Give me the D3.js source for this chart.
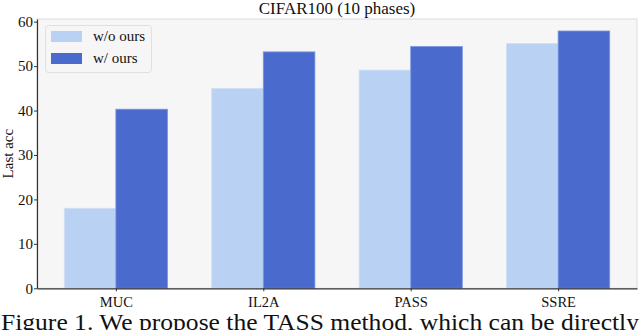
<!DOCTYPE html>
<html><head><meta charset="utf-8">
<script src="https://cdn.jsdelivr.net/npm/d3@7"></script>
<style>body{margin:0;background:#fff}svg{display:block}</style>
</head><body><svg id="c" width="640" height="330" font-family="Liberation Serif"></svg>
<script>
const categories = ["MUC", "IL2A", "PASS", "SSRE"];
const seriesNames = ["w/o ours", "w/ ours"];
const withoutOurs = [18.0, 45.0, 49.1, 55.1];
const withOurs = [40.3, 53.2, 54.4, 57.9];
const yTicks = [0, 10, 20, 30, 40, 50, 60];
const colors = ["#b9d2f3", "#4a6bcd"];
const title = "CIFAR100 (10 phases)";
const yLabel = "Last acc";
const caption = "Figure 1.  We propose the TASS method, which can be directly";

const FF = "Liberation Serif";
const svg = d3.select("#c");
const L = 37, R = 637, T = 19, B = 288.3;
const x = d3.scaleLinear().domain([-0.535, categories.length - 1 + 0.535]).range([L, R]);
const y = d3.scaleLinear().domain([0, 60.6]).range([B, T]);
const bw = 0.35;

svg.append("rect").attr("x", L).attr("y", T).attr("width", R - L).attr("height", B - T).attr("fill", "#f6f6f6")
  .attr("stroke", "#dcdcdc").attr("stroke-width", 1);

const series = [withoutOurs, withOurs];
series.forEach((vals, s) => {
  svg.append("g").selectAll("rect").data(vals).join("rect")
    .attr("x", (d, i) => x(i + (s === 0 ? -bw : 0)))
    .attr("y", d => y(d))
    .attr("width", x(bw) - x(0))
    .attr("height", d => y(0) - y(d))
    .attr("fill", colors[s])
    .attr("stroke", s === 0 ? "#d0e0f6" : "#7d95de").attr("stroke-width", 0.8);
});

const xAxis = svg.append("g").attr("transform", `translate(0,${B})`)
  .call(d3.axisBottom(x).tickValues(d3.range(categories.length)).tickFormat(i => categories[i]).tickSize(3).tickSizeOuter(0));
xAxis.attr("font-family", FF);
xAxis.select(".domain").attr("stroke", "#333").attr("stroke-width", 1.2);
xAxis.selectAll("text").attr("font-size", 14.5).attr("fill", "#111").attr("dy", null).attr("y", 18.5);
xAxis.selectAll("line").attr("stroke", "#333");

const yAxis = svg.append("g").attr("transform", `translate(${L},0)`)
  .call(d3.axisLeft(y).tickValues(yTicks).tickSize(3).tickSizeOuter(0));
yAxis.attr("font-family", FF);
yAxis.select(".domain").attr("stroke", "#333").attr("stroke-width", 1.2);
yAxis.selectAll("text").attr("font-size", 15).attr("fill", "#111").attr("x", -4);
yAxis.selectAll("line").attr("stroke", "#333");

svg.append("text").attr("x", (L + R) / 2).attr("y", 14).attr("text-anchor", "middle")
  .attr("font-family", FF).attr("font-size", 17).attr("fill", "#111").text(title);

svg.append("text").attr("transform", `translate(13,${(T + B) / 2}) rotate(-90)`).attr("text-anchor", "middle")
  .attr("font-family", FF).attr("font-size", 15).attr("fill", "#111").text(yLabel);

// legend
const lg = svg.append("g").attr("font-family", FF);
lg.append("rect").attr("x", 45.5).attr("y", 25.5).attr("width", 106).attr("height", 47).attr("rx", 3)
  .attr("fill", "#f6f6f6").attr("stroke", "#e0e0e0");
seriesNames.forEach((n, i) => {
  lg.append("rect").attr("x", 51).attr("y", 31 + i * 22).attr("width", 31).attr("height", 11).attr("fill", colors[i]);
  lg.append("text").attr("x", 93).attr("y", 41 + i * 22).attr("font-size", 15).attr("fill", "#111").text(n);
});

svg.append("text").attr("x", 1).attr("y", 329.5).attr("font-family", FF).attr("font-size", 23).attr("fill", "#111")
  .attr("textLength", 638).attr("lengthAdjust", "spacingAndGlyphs").text(caption);
</script></body></html>
